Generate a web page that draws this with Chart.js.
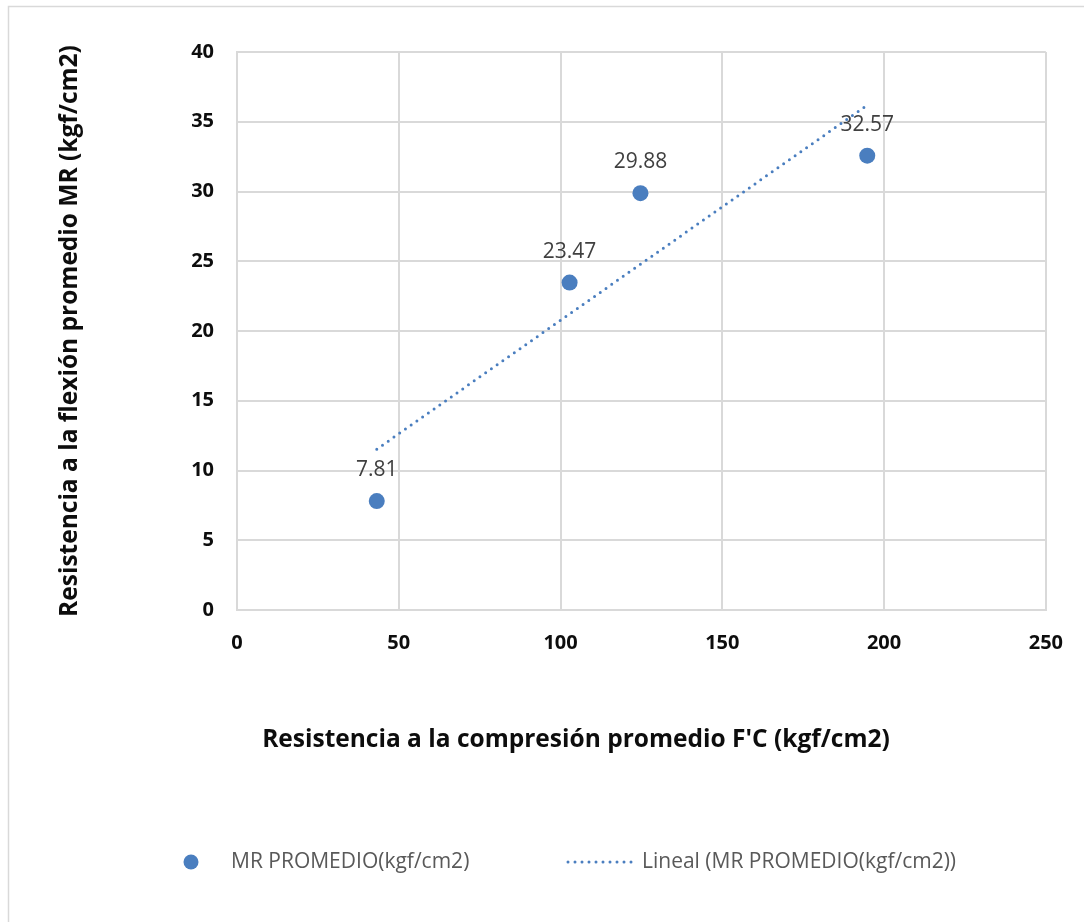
<!DOCTYPE html>
<html>
<head>
<meta charset="utf-8">
<script src="https://cdn.jsdelivr.net/npm/chart.js@4/dist/chart.umd.min.js"></script>
<style>
  html, body { margin: 0; padding: 0; background: #fff; }
  #wrap { width: 1084px; height: 922px; position: relative; }
</style>
</head>
<body>
<div id="wrap"><canvas id="c" width="1084" height="922"></canvas></div>
<script>
// Average compressive strength F'c (kgf/cm2) and average flexural strength MR (kgf/cm2)
const fcValues = [43.2, 102.8, 124.7, 194.8];
const mrValues = [7.81, 23.47, 29.88, 32.57];
const xTicks = [0, 50, 100, 150, 200, 250];
const yTicks = [0, 5, 10, 15, 20, 25, 30, 35, 40];

const seriesName = 'MR PROMEDIO(kgf/cm2)';
const trendName = 'Lineal (MR PROMEDIO(kgf/cm2))';
const xTitle = "Resistencia a la compresión promedio F'C (kgf/cm2)";
const yTitle = 'Resistencia a la flexión promedio MR (kgf/cm2)';

const FONT = '"Open Sans", "Noto Sans", sans-serif';
const BLUE = '#4A7EBF';
const GRID = '#d9d9d9';
const DARK = '#0d0d0d';

// least-squares linear trend over the measured points
function linearFit(xs, ys) {
  const n = xs.length;
  const mx = xs.reduce((a, b) => a + b, 0) / n;
  const my = ys.reduce((a, b) => a + b, 0) / n;
  let sxy = 0, sxx = 0;
  for (let i = 0; i < n; i++) {
    sxy += (xs[i] - mx) * (ys[i] - my);
    sxx += (xs[i] - mx) * (xs[i] - mx);
  }
  const slope = sxy / sxx;
  return { slope, intercept: my - slope * mx };
}
const fit = linearFit(fcValues, mrValues);
const xMin = Math.min(...fcValues), xMax = Math.max(...fcValues);
const trendPoints = [xMin, xMax].map(x => ({ x, y: fit.intercept + fit.slope * x }));

const points = fcValues.map((x, i) => ({ x, y: mrValues[i] }));

// outer frame of the chart object
const framePlugin = {
  id: 'frame',
  beforeDraw(chart) {
    const ctx = chart.ctx;
    ctx.save();
    ctx.fillStyle = '#fff';
    ctx.fillRect(0, 0, chart.width, chart.height);
    ctx.strokeStyle = GRID;
    ctx.lineWidth = 1.5;
    ctx.strokeRect(8.5, 6.5, chart.width + 20, chart.height + 20);
    ctx.restore();
  }
};

// horizontal axis title, centred on the chart object rather than the plot
const xTitlePlugin = {
  id: 'xTitle',
  afterDraw(chart) {
    const ctx = chart.ctx;
    ctx.save();
    ctx.font = 'bold 24.5px ' + FONT;
    ctx.fillStyle = DARK;
    ctx.textAlign = 'center';
    ctx.textBaseline = 'middle';
    ctx.fillText(xTitle, 576, 740);
    ctx.restore();
  }
};

// value labels above each point
const valueLabels = {
  id: 'valueLabels',
  afterDatasetsDraw(chart) {
    const ctx = chart.ctx;
    const meta = chart.getDatasetMeta(0);
    ctx.save();
    ctx.font = '21px ' + FONT;
    ctx.fillStyle = '#404040';
    ctx.textAlign = 'center';
    ctx.textBaseline = 'alphabetic';
    meta.data.forEach((el, i) => {
      ctx.fillText(mrValues[i].toFixed(2), el.x, el.y - 25);
    });
    ctx.restore();
  }
};

// bottom legend: marker for the series and dotted sample for the trend
const bottomLegend = {
  id: 'bottomLegend',
  afterDraw(chart) {
    const ctx = chart.ctx;
    const ds = chart.data.datasets;
    const cy = 862;
    ctx.save();
    ctx.font = '21px ' + FONT;
    ctx.textAlign = 'left';
    ctx.textBaseline = 'middle';
    // scatter series
    ctx.beginPath();
    ctx.arc(191, cy, 7.5, 0, Math.PI * 2);
    ctx.fillStyle = ds[0].backgroundColor;
    ctx.fill();
    ctx.fillStyle = '#595959';
    ctx.fillText(ds[0].label, 231, cy);
    // trend line
    ctx.strokeStyle = ds[1].borderColor;
    ctx.lineWidth = 3;
    ctx.lineCap = 'round';
    ctx.setLineDash(ds[1].borderDash);
    ctx.beginPath();
    ctx.moveTo(568, cy);
    ctx.lineTo(636, cy);
    ctx.stroke();
    ctx.setLineDash([]);
    ctx.fillText(ds[1].label, 642, cy);
    ctx.restore();
  }
};

new Chart(document.getElementById('c'), {
  type: 'scatter',
  data: {
    datasets: [
      {
        label: seriesName,
        data: points,
        backgroundColor: BLUE,
        borderColor: BLUE,
        pointRadius: 8,
        pointHoverRadius: 8,
        pointBorderWidth: 0,
        order: 1
      },
      {
        label: trendName,
        type: 'line',
        data: trendPoints,
        showLine: true,
        fill: false,
        borderColor: BLUE,
        borderWidth: 3,
        borderDash: [0, 7],
        borderCapStyle: 'round',
        pointRadius: 0,
        tension: 0,
        order: 2
      }
    ]
  },
  options: {
    responsive: false,
    animation: false,
    events: [],
    layout: { padding: { left: 0, top: 52, right: 37, bottom: 162 } },
    plugins: {
      legend: { display: false },
      tooltip: { enabled: false }
    },
    scales: {
      x: {
        type: 'linear',
        min: 0,
        max: 250,
        afterBuildTicks(scale) { scale.ticks = xTicks.map(v => ({ value: v })); },
        afterFit(scale) { scale.height = 150; },
        ticks: {
          padding: 21,
          color: DARK,
          font: { family: FONT, size: 20, weight: 'bold' }
        },
        grid: { color: GRID, lineWidth: 2, drawTicks: false },
        border: { color: GRID, width: 2 },
        title: { display: false }
      },
      y: {
        type: 'linear',
        min: 0,
        max: 40,
        afterBuildTicks(scale) { scale.ticks = yTicks.map(v => ({ value: v })); },
        afterFit(scale) { scale.width = 237; },
        ticks: {
          padding: 23,
          color: DARK,
          font: { family: FONT, size: 20, weight: 'bold' }
        },
        grid: { color: GRID, lineWidth: 2, drawTicks: false },
        border: { color: GRID, width: 2 },
        title: {
          display: true,
          text: yTitle,
          color: DARK,
          font: { family: FONT, size: 24.5, weight: 'bold' },
          padding: { top: 55, bottom: 0 }
        }
      }
    }
  },
  plugins: [framePlugin, xTitlePlugin, valueLabels, bottomLegend]
});
</script>
</body>
</html>
